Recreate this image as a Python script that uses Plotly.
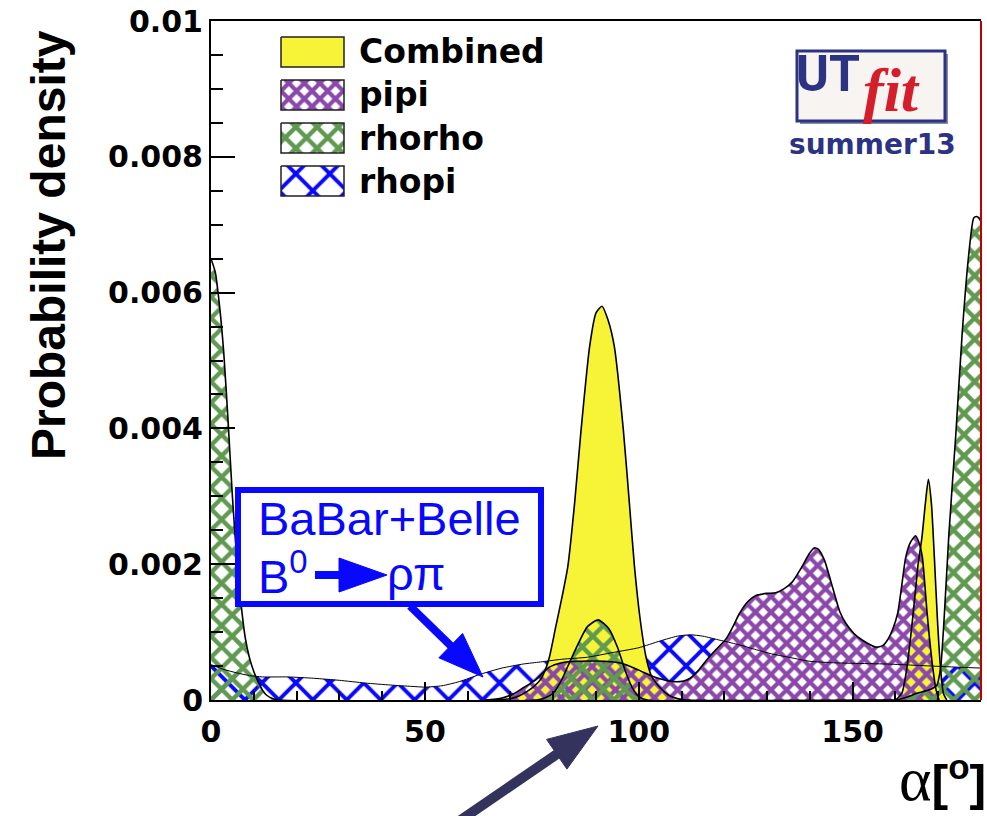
import math
import plotly.graph_objects as go

# ---------------- data ----------------
comb_x = [66, 70, 72, 74, 75.5, 77, 78, 79.1, 80.5, 82, 83.4, 85, 86.5, 88.5, 90, 91.4,
          92.8, 94.3, 96.4, 97.8, 99, 100.3, 101.7, 103, 105, 107, 109, 111,
          158, 160, 161.5, 162.5, 163.5, 164.5, 165.3, 166.2, 167.0, 167.7, 168.4,
          169.1, 169.8, 170.5, 171.2, 172]
comb_y = [0, 0.00002, 0.00006, 0.00013, 0.0002, 0.0003, 0.00042, 0.00063, 0.00105, 0.0015,
          0.00196, 0.0029, 0.00397, 0.0052, 0.0057, 0.0058, 0.0056, 0.0052, 0.00397, 0.0029,
          0.00196, 0.0012, 0.00063, 0.00035, 0.00018, 0.00007, 0.00002, 0,
          0, 0, 0.0001, 0.0004, 0.0009, 0.0015, 0.0020, 0.0024, 0.0029, 0.00325, 0.0029,
          0.0021, 0.0012, 0.0005, 0.0001, 0]

pipi_x = [64, 68, 71, 73, 76, 79, 82, 86, 92, 96, 100, 104, 108, 110.5, 112, 114, 116, 118,
          120.4, 122, 123.5, 125.5, 127.4, 130, 132, 134, 135.9, 138.2, 139.8, 141, 142,
          143.4, 145.3, 147, 148.4, 150.3, 152.3, 155.4, 157, 158.1, 159.4, 160.5, 161.5,
          162.4, 163.5, 164.7, 165.5, 166.3, 167.4, 168.6, 169.5, 170.2]
pipi_y = [0, 0.00003, 0.0001, 0.00018, 0.0003, 0.00048, 0.00055, 0.00057, 0.00057, 0.00054,
          0.00044, 0.00033, 0.00027, 0.00028, 0.00032, 0.00044, 0.0006, 0.00074,
          0.0009, 0.00108, 0.00127, 0.00145, 0.00154, 0.00157, 0.00158, 0.00164, 0.00174,
          0.00197, 0.00215, 0.00224, 0.00222, 0.00206, 0.00166, 0.0013, 0.00113, 0.00098,
          0.00088, 0.00078, 0.0008, 0.00088, 0.00105, 0.00127, 0.0017, 0.0021, 0.00232,
          0.00242, 0.00232, 0.0021, 0.00128, 0.00054, 0.00015, 0]

rhorho_x = [0, 1, 2, 3, 4, 5, 6, 7, 8, 9, 10, 11, 12, 13, 14.5, 16,
            76, 78, 80, 82, 84, 86, 88, 90.5, 93, 95, 97, 98.5, 100, 102,
            160, 163, 165, 168, 169.7, 170.6, 171.4, 172.5, 174.1, 175.6, 177.2,
            178.3, 179.0, 179.5, 180]
rhorho_y = [0.0065, 0.0063, 0.0058, 0.0051, 0.0041, 0.0030, 0.0021, 0.00143, 0.00092,
            0.00062, 0.00042, 0.00027, 0.00015, 0.00007, 0.00002, 0,
            0, 0.00003, 0.0001, 0.0003, 0.00058, 0.00085, 0.00108, 0.00118, 0.00105,
            0.00078, 0.0004, 0.00018, 0.00005, 0,
            0, 0.00005, 0.0001, 0.00015, 0.00022, 0.0005, 0.00122, 0.00245, 0.0039,
            0.0054, 0.0066, 0.0071, 0.00712, 0.0071, 0.00705]

rhopi_x = [0, 3, 6, 9, 12, 18, 24, 30, 36, 42, 47, 50, 54, 58, 63, 68, 73, 77, 82, 88, 94,
           100, 105, 109, 112, 115, 119, 123, 127.5, 131, 135, 140, 145, 150, 158, 165,
           172, 180]
rhopi_y = [0.00052, 0.00045, 0.0004, 0.00036, 0.00034, 0.00034, 0.00032, 0.00029, 0.00025,
           0.00022, 0.0002, 0.00019, 0.00021, 0.00027, 0.00038, 0.00047, 0.00053, 0.00056,
           0.0006, 0.00063, 0.0007, 0.00077, 0.00087, 0.00094, 0.00096, 0.00094, 0.00088,
           0.00082, 0.00074, 0.00068, 0.00063, 0.00057, 0.00055, 0.00054, 0.00053, 0.00051,
           0.00049, 0.00047]

x_tickvals = [0, 50, 100, 150]
y_tickvals = [0, 0.002, 0.004, 0.006, 0.008, 0.01]
y_ticktext = ["0", "0.002", "0.004", "0.006", "0.008", "0.01"]
legend_names = ["Combined", "pipi", "rhorho", "rhopi"]

# ---------------- styles ----------------
W, H = 987, 816
PL, PR, PT, PB = 211, 981, 21, 700
YELLOW = "#f7f336"
PURPLE = "#8a48aa"
GREEN = "#5f9a50"
BLUE = "#0808ff"
NAVY = "#2b3382"


def px(x):
    return (x - PL) / (PR - PL)


def py(y):
    return (PB - y) / (PB - PT)


def hatch(color, size, solidity):
    return dict(shape="x", fgcolor=color, bgcolor="rgba(0,0,0,0)", size=size,
                solidity=solidity, fillmode="replace")


PAT = {
    "pipi": hatch(PURPLE, 11, 0.62),
    "rhorho": hatch(GREEN, 15, 0.5),
    "rhopi": hatch(BLUE, 24, 0.3),
}
SPL = dict(shape="spline", smoothing=0.6)

fig = go.Figure()


def fill_trace(x, y, fillcolor=None, pattern=None):
    kw = dict(x=x, y=y, mode="lines", line=dict(width=0, **SPL), fill="tozeroy",
              showlegend=False, hoverinfo="skip")
    if pattern is not None:
        kw["fillcolor"] = pattern["fgcolor"]
        kw["fillpattern"] = pattern
    else:
        kw["fillcolor"] = fillcolor
    fig.add_trace(go.Scatter(**kw))


def outline(x, y, w):
    fig.add_trace(go.Scatter(x=x, y=y, mode="lines", line=dict(color="black", width=w, **SPL),
                             showlegend=False, hoverinfo="skip"))


# fills
fill_trace(rhopi_x, rhopi_y, pattern=PAT["rhopi"])
fill_trace(pipi_x, pipi_y, fillcolor="white")
fill_trace(comb_x, comb_y, fillcolor=YELLOW)
fill_trace(pipi_x, pipi_y, pattern=PAT["pipi"])
fill_trace(rhorho_x, rhorho_y, pattern=PAT["rhorho"])
# outlines
outline(comb_x, comb_y, 1.6)
outline(pipi_x, pipi_y, 1.6)
outline(rhorho_x, rhorho_y, 1.6)
outline(rhopi_x, rhopi_y, 1.0)

# ---------------- legend (drawn on a pixel-unit overlay axis) ----------------
LEG_X0, LEG_W, LEG_Y0, LEG_H, LEG_DY = 281, 63, 37, 30, 43
leg_styles = [dict(fillcolor=YELLOW), dict(pattern=PAT["pipi"]),
              dict(pattern=PAT["rhorho"]), dict(pattern=PAT["rhopi"])]
annotations = []
for i, (name, st) in enumerate(zip(legend_names, leg_styles)):
    y0 = LEG_Y0 + i * LEG_DY
    xs = [LEG_X0, LEG_X0 + LEG_W, LEG_X0 + LEG_W, LEG_X0, LEG_X0]
    ys = [y0, y0, y0 + LEG_H, y0 + LEG_H, y0]
    kw = dict(x=xs, y=ys, mode="lines", fill="toself", xaxis="x2", yaxis="y2",
              line=dict(color="#222222", width=1.5), showlegend=False, hoverinfo="skip")
    if "pattern" in st:
        kw["fillcolor"] = st["pattern"]["fgcolor"]
        kw["fillpattern"] = st["pattern"]
    else:
        kw["fillcolor"] = st["fillcolor"]
    fig.add_trace(go.Scatter(**kw))
    annotations.append(dict(text=name, xref="paper", yref="paper", x=px(357),
                            y=py(y0 + LEG_H / 2), xanchor="left", yanchor="middle",
                            showarrow=False,
                            font=dict(family="DejaVu Sans", size=33, weight="bold",
                                      color="black")))

# ---------------- texts ----------------
annotations += [
    dict(text="Probability density", xref="paper", yref="paper", x=px(48), y=py(245),
         xanchor="center", yanchor="middle", textangle=-90, showarrow=False,
         font=dict(family="Liberation Sans", size=48, weight="bold", color="black")),
    dict(text="<span style='font-family:Liberation Serif;font-weight:normal;font-size:62px'>α</span>[<sup>o</sup>]",
         xref="paper", yref="paper", x=px(988), y=py(815), xanchor="right", yanchor="bottom",
         showarrow=False,
         font=dict(family="Liberation Sans", size=50, weight="bold", color="black")),
    dict(text="BaBar+Belle", xref="paper", yref="paper", x=px(256), y=py(518),
         xanchor="left", yanchor="middle", showarrow=False,
         font=dict(family="Liberation Sans", size=47, color=BLUE)),
    dict(text="B<sup>0</sup>", xref="paper", yref="paper", x=px(256), y=py(573),
         xanchor="left", yanchor="middle", showarrow=False,
         font=dict(family="Liberation Sans", size=47, color=BLUE)),
    dict(text="ρπ", xref="paper", yref="paper", x=px(385), y=py(573),
         xanchor="left", yanchor="middle", showarrow=False,
         font=dict(family="Liberation Sans", size=47, color=BLUE)),
    dict(text="UT", xref="paper", yref="paper", x=px(828), y=py(74),
         xanchor="center", yanchor="middle", showarrow=False,
         font=dict(family="Liberation Sans Narrow, Roboto, Liberation Sans", size=50,
                   weight="bold", color=NAVY)),
    dict(text="<i>fit</i>", xref="paper", yref="paper", x=px(891), y=py(90),
         xanchor="center", yanchor="middle", showarrow=False,
         font=dict(family="Liberation Serif", size=62, weight="bold", color="#d41e2c")),
    dict(text="summer13", xref="paper", yref="paper", x=px(872), y=py(144),
         xanchor="center", yanchor="middle", showarrow=False,
         font=dict(family="DejaVu Sans", size=28, weight="bold", color=NAVY)),
]

# ---------------- shapes ----------------
shapes = []


def arrow(tail, tip, head_len, head_half, width, color):
    dx, dy = tip[0] - tail[0], tip[1] - tail[1]
    n = math.hypot(dx, dy)
    ux, uy = dx / n, dy / n
    bx, by = tip[0] - head_len * ux, tip[1] - head_len * uy
    nx, ny = -uy, ux
    c1 = (bx + head_half * nx, by + head_half * ny)
    c2 = (bx - head_half * nx, by - head_half * ny)
    sx, sy = bx + 2 * ux, by + 2 * uy
    shapes.append(dict(type="line", xref="paper", yref="paper", x0=px(tail[0]), y0=py(tail[1]),
                       x1=px(sx), y1=py(sy), line=dict(color=color, width=width), layer="above"))
    path = "M{},{} L{},{} L{},{} Z".format(px(tip[0]), py(tip[1]), px(c1[0]), py(c1[1]),
                                          px(c2[0]), py(c2[1]))
    shapes.append(dict(type="path", xref="paper", yref="paper", path=path, fillcolor=color,
                       line=dict(color=color, width=1), layer="above"))


# BaBar+Belle box
shapes.append(dict(type="rect", xref="paper", yref="paper", x0=px(238), x1=px(541),
                   y0=py(490), y1=py(604), line=dict(color=BLUE, width=6),
                   fillcolor="white", layer="above"))
# UTfit logo box
shapes.append(dict(type="rect", xref="paper", yref="paper", x0=px(800), x1=px(948),
                   y0=py(54), y1=py(124), line=dict(width=0), fillcolor="#8a8a9a",
                   layer="above"))
shapes.append(dict(type="rect", xref="paper", yref="paper", x0=px(797), x1=px(945),
                   y0=py(51), y1=py(121), line=dict(color=NAVY, width=3),
                   fillcolor="#f7f4f2", layer="above"))
# right frame edge
shapes.append(dict(type="line", xref="paper", yref="paper", x0=1, x1=1, y0=0, y1=1,
                   line=dict(color="#c00000", width=2), layer="above"))

arrow((315, 575), (387, 575), 48, 17, 8, BLUE)
arrow((410, 606), (483, 677), 45, 17, 8, BLUE)
arrow((452, 826), (598, 726), 50, 18, 10, "#33335e")

tickfont = dict(family="DejaVu Sans", size=30, weight="bold", color="black")

fig.update_layout(
    width=W, height=H,
    margin=dict(l=PL, r=W - PR, t=PT, b=H - PB, autoexpand=False),
    paper_bgcolor="white", plot_bgcolor="white",
    showlegend=False,
    xaxis=dict(range=[0, 180], showgrid=False, zeroline=False, showline=True,
               linecolor="black", linewidth=2, mirror=True,
               tickmode="array", tickvals=x_tickvals, ticks="inside", ticklen=18,
               tickwidth=1.5, tickcolor="black", tickfont=tickfont, ticklabelstandoff=4,
               minor=dict(dtick=10, tick0=0, ticks="inside", ticklen=9, tickwidth=1.5,
                          tickcolor="black", showgrid=False)),
    yaxis=dict(range=[0, 0.01], showgrid=False, zeroline=False, showline=True,
               linecolor="black", linewidth=2,
               tickmode="array", tickvals=y_tickvals, ticktext=y_ticktext, ticks="inside",
               ticklen=24, tickwidth=1.5, tickcolor="black", tickfont=tickfont,
               minor=dict(dtick=0.0005, tick0=0, ticks="inside", ticklen=12, tickwidth=1.5,
                          tickcolor="black", showgrid=False)),
    xaxis2=dict(overlaying="x", anchor="y2", range=[PL, PR], visible=False, fixedrange=True),
    yaxis2=dict(overlaying="y", anchor="x2", range=[PB, PT], visible=False, fixedrange=True),
    annotations=annotations,
    shapes=shapes,
)

fig.write_html("out.html")
